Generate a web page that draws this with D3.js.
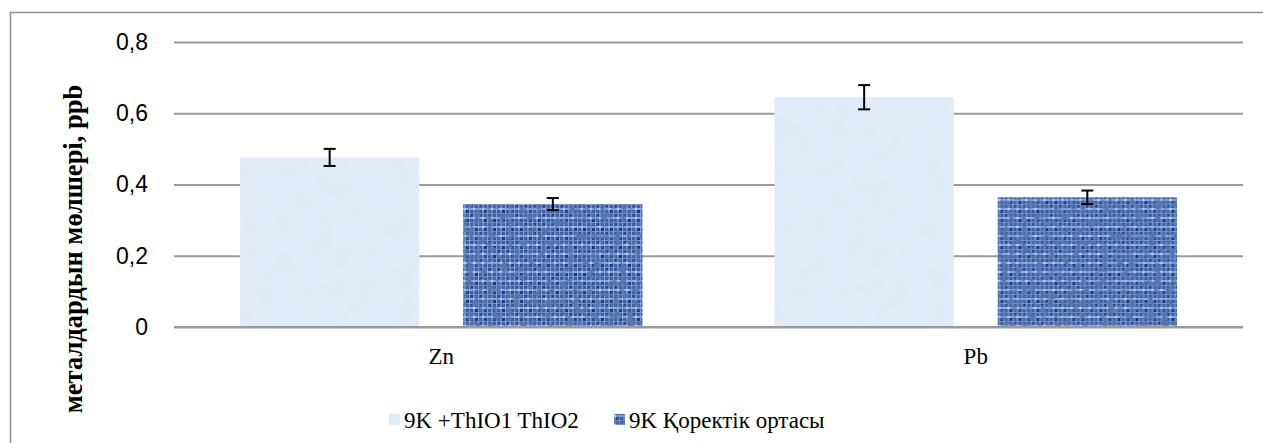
<!DOCTYPE html>
<html>
<head>
<meta charset="utf-8">
<script src="https://cdn.jsdelivr.net/npm/d3@7"></script>
<style>
  html, body { margin: 0; padding: 0; background: #fff; }
  svg { display: block; }
</style>
</head>
<body>
<svg id="chart" width="1263" height="443"></svg>
<script>
// Metal content by element and culture medium
const categories = ["Zn", "Pb"];
const seriesNames = ["9K +ThIO1 ThIO2", "9K Қоректік ортасы"];
const seriesThio = [0.476, 0.645];
const seriesMedium = [0.345, 0.364];
const errorThio = [0.024, 0.034];
const errorMedium = [0.017, 0.019];
const yTicks = [0, 0.2, 0.4, 0.6, 0.8];
const yTitle = "металдардын мөлшері, ppb";

const svg = d3.select("#chart");

const plot = { left: 174, right: 1243, top: 42, bottom: 327 };
const serif = "'Liberation Serif', 'Times New Roman', serif";

// ---- textures for the two series ----
const defs = svg.append("defs");

// soft paper-like light blue
const paper = defs.append("filter").attr("id", "paper")
  .attr("x", 0).attr("y", 0).attr("width", 1).attr("height", 1)
  .attr("filterUnits", "objectBoundingBox");
paper.append("feTurbulence").attr("type", "fractalNoise")
  .attr("baseFrequency", 0.05).attr("numOctaves", 4).attr("seed", 4).attr("result", "noise");
paper.append("feColorMatrix").attr("in", "noise").attr("type", "matrix")
  .attr("values", "0 0 0 0 0.74  0 0 0 0 0.82  0 0 0 0 0.92  0 0 0 -2.2 1.35")
  .attr("result", "tint");
paper.append("feFlood").attr("flood-color", "#dfebf8").attr("result", "base");
paper.append("feComposite").attr("in", "tint").attr("in2", "base").attr("operator", "over").attr("result", "mix");
paper.append("feComposite").attr("in", "mix").attr("in2", "SourceGraphic").attr("operator", "in");

// woven denim-like blue: light weft rows crossing dark warp columns
const weave = defs.append("pattern").attr("id", "weave")
  .attr("patternUnits", "userSpaceOnUse").attr("width", 9).attr("height", 9);
weave.append("rect").attr("width", 9).attr("height", 9).attr("fill", "#3a5da2");
weave.append("rect").attr("x", 0).attr("y", 1).attr("width", 9).attr("height", 2).attr("fill", "#89a9e2");
weave.append("rect").attr("x", 0).attr("y", 6).attr("width", 9).attr("height", 1).attr("fill", "#7292d0");
weave.append("rect").attr("x", 2).attr("y", 0).attr("width", 2).attr("height", 9).attr("fill", "#6d8fcf");
weave.append("rect").attr("x", 7).attr("y", 0).attr("width", 1).attr("height", 9).attr("fill", "#8aa8e0");
weave.append("rect").attr("x", 2).attr("y", 1).attr("width", 2).attr("height", 2).attr("fill", "#bdd2f5");
weave.append("rect").attr("x", 4).attr("y", 3).attr("width", 3).attr("height", 3).attr("fill", "#1c3877");
weave.append("rect").attr("x", 0).attr("y", 7).attr("width", 2).attr("height", 2).attr("fill", "#22407e");

const grain = defs.append("filter").attr("id", "grain")
  .attr("x", 0).attr("y", 0).attr("width", 1).attr("height", 1)
  .attr("filterUnits", "objectBoundingBox");
grain.append("feTurbulence").attr("type", "fractalNoise")
  .attr("baseFrequency", 0.15).attr("numOctaves", 2).attr("seed", 9).attr("result", "noise");
grain.append("feColorMatrix").attr("in", "noise").attr("type", "matrix")
  .attr("values", "0 0 0 0 0.09  0 0 0 0 0.18  0 0 0 0 0.42  0 0 0 -3.2 1.85")
  .attr("result", "dark");
grain.append("feComposite").attr("in", "dark").attr("in2", "SourceGraphic").attr("operator", "atop");

const fills = [
  { fill: "#dbe8f7", filter: "url(#paper)" },
  { fill: "url(#weave)", filter: "url(#grain)" }
];

// ---- outer frame ----
svg.append("rect")
  .attr("x", 10.5).attr("y", 12.5).attr("width", 1400).attr("height", 600)
  .attr("fill", "none").attr("stroke", "#8e8e8e").attr("stroke-width", 1.5);

// ---- scales ----
const y = d3.scaleLinear().domain([0, 0.8]).range([plot.bottom, plot.top]);
const x0 = d3.scaleBand().domain(categories).range([plot.left, plot.right]).padding(0);
const x1 = d3.scaleBand().domain(seriesNames).range([0, x0.bandwidth()])
  .paddingInner(0.197).paddingOuter(0.296);

// ---- gridlines and y tick labels ----
const yAxis = d3.axisLeft(y)
  .tickValues(yTicks)
  .tickSize(-(plot.right - plot.left))
  .tickPadding(26)
  .tickFormat(d => d === 0 ? "0" : d3.format(".1f")(d).replace(".", ","));

const gy = svg.append("g").attr("transform", `translate(${plot.left},0)`).call(yAxis);
gy.select(".domain").remove();
gy.selectAll(".tick line").attr("stroke", "#9a9a9a").attr("stroke-width", 2);
gy.selectAll(".tick text")
  .attr("font-family", "'Liberation Sans', Arial, sans-serif")
  .attr("font-size", 23).attr("fill", "#000");

// ---- bars ----
const seriesData = [seriesThio, seriesMedium];
const seriesErr = [errorThio, errorMedium];

const groups = svg.append("g").selectAll("g")
  .data(categories)
  .join("g")
  .attr("transform", d => `translate(${x0(d)},0)`);

groups.each(function(cat, ci) {
  const g = d3.select(this);
  seriesNames.forEach((s, si) => {
    const v = seriesData[si][ci];
    g.append("rect")
      .attr("x", x1(s)).attr("y", y(v))
      .attr("width", x1.bandwidth()).attr("height", y(0) - y(v))
      .attr("fill", fills[si].fill)
      .attr("filter", fills[si].filter);
  });
});

// ---- error bars ----
groups.each(function(cat, ci) {
  const g = d3.select(this);
  seriesNames.forEach((s, si) => {
    const v = seriesData[si][ci], e = seriesErr[si][ci];
    const cx = x1(s) + x1.bandwidth() / 2;
    const eb = g.append("g").attr("stroke", "#000").attr("stroke-width", 2).attr("fill", "none");
    eb.append("line").attr("x1", cx).attr("x2", cx).attr("y1", y(v + e)).attr("y2", y(v - e));
    eb.append("line").attr("x1", cx - 6).attr("x2", cx + 6).attr("y1", y(v + e)).attr("y2", y(v + e));
    eb.append("line").attr("x1", cx - 6).attr("x2", cx + 6).attr("y1", y(v - e)).attr("y2", y(v - e));
  });
});

// ---- axis baseline and category labels ----
svg.append("line")
  .attr("x1", plot.left).attr("x2", plot.right)
  .attr("y1", y(0)).attr("y2", y(0))
  .attr("stroke", "#9a9a9a").attr("stroke-width", 2);

const xAxis = d3.axisBottom(x0).tickSize(0).tickPadding(21);
const gx = svg.append("g").attr("transform", `translate(0,${plot.bottom})`).call(xAxis);
gx.select(".domain").remove();
gx.attr("font-family", serif);
gx.selectAll(".tick text")
  .attr("font-family", serif)
  .attr("font-size", 23).attr("fill", "#000");

// ---- y axis title ----
svg.append("text")
  .attr("transform", "translate(82,249) rotate(-90)")
  .attr("text-anchor", "middle")
  .attr("font-family", serif)
  .attr("font-weight", "bold")
  .attr("font-size", 26.5)
  .attr("fill", "#000")
  .text(yTitle);

// ---- legend ----
const legendItems = [
  { name: seriesNames[0], x: 389 },
  { name: seriesNames[1], x: 614 }
];
const lg = svg.append("g");
legendItems.forEach((d, i) => {
  lg.append("rect")
    .attr("x", d.x).attr("y", 414).attr("width", 11).attr("height", 11)
    .attr("fill", fills[i].fill).attr("filter", fills[i].filter);
  lg.append("text")
    .attr("x", d.x + 15).attr("y", 428)
    .attr("font-family", serif)
    .attr("font-size", 23).attr("fill", "#000")
    .text(d.name);
});
</script>
</body>
</html>
